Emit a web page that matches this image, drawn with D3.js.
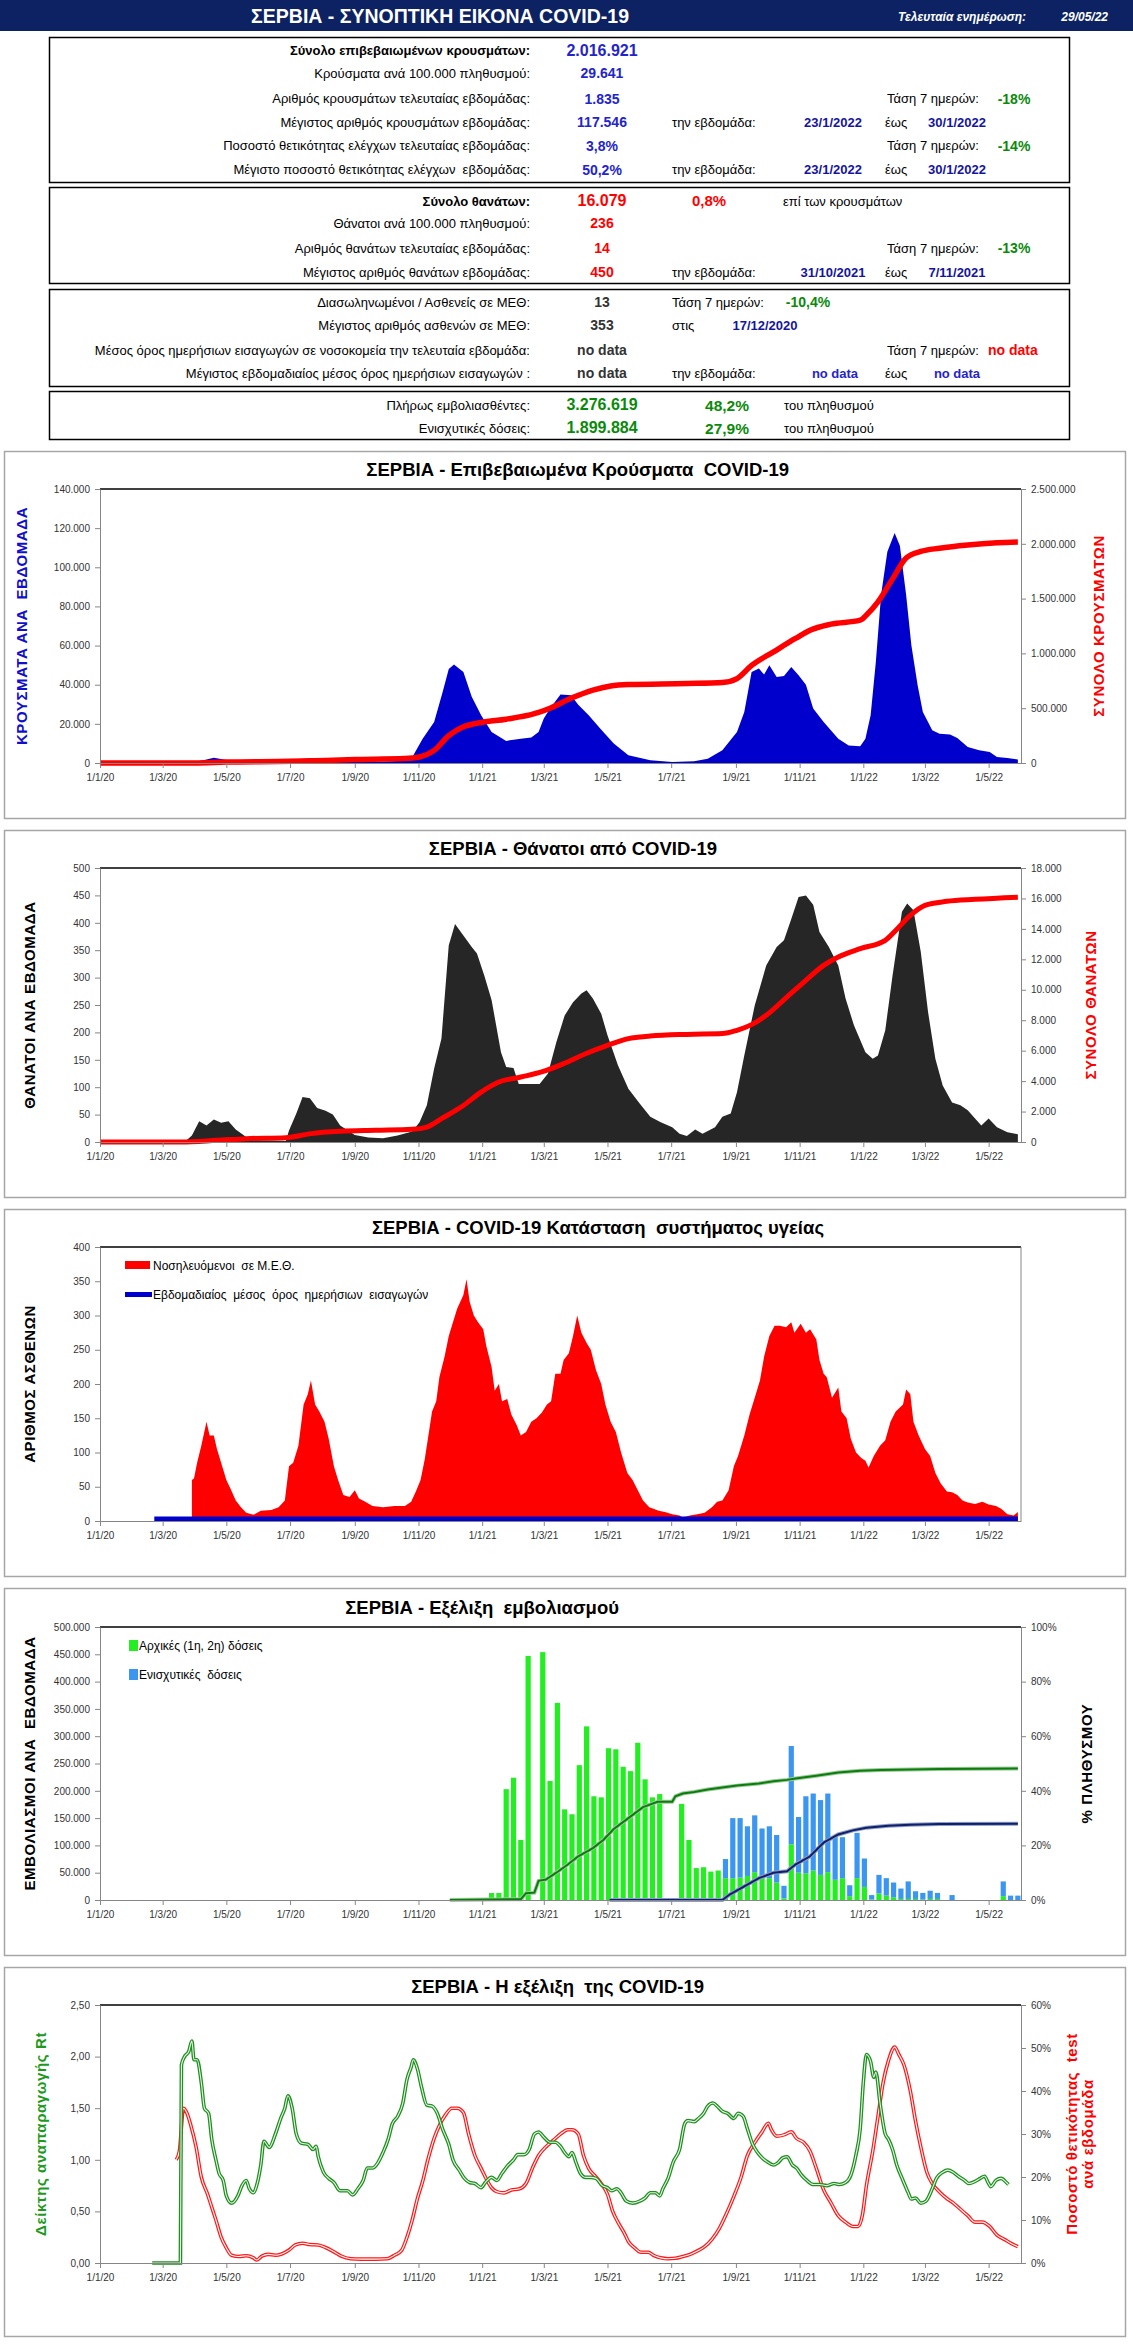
<!DOCTYPE html>
<html><head><meta charset="utf-8">
<script src="https://cdn.jsdelivr.net/npm/d3@7"></script>
<style>
body{margin:0;background:#fff}
svg{display:block}
text{font-family:"Liberation Sans",Arial,sans-serif;white-space:pre}
</style></head><body>
<svg id="c" width="1133" height="2345"></svg>
<script>
// ---------------- DATA ----------------
const xTickDates = ["2020-01-01","2020-03-01","2020-05-01","2020-07-01","2020-09-01","2020-11-01","2021-01-01","2021-03-01","2021-05-01","2021-07-01","2021-09-01","2021-11-01","2022-01-01","2022-03-01","2022-05-01"];

const casesWeekly = [["2020-01-01",0],["2020-03-08",0],["2020-04-02",800],["2020-04-09",1400],["2020-04-19",2700],["2020-04-30",1700],["2020-05-13",900],["2020-06-03",600],["2020-06-24",1400],["2020-07-15",2200],["2020-07-25",2500],["2020-08-11",1400],["2020-09-01",800],["2020-09-29",800],["2020-10-19",1200],["2020-10-26",3000],["2020-11-05",12400],["2020-11-16",21000],["2020-11-24",36000],["2020-11-30",48000],["2020-12-05",50300],["2020-12-14",46500],["2020-12-22",33800],["2020-12-31",24400],["2021-01-10",15900],["2021-01-24",11300],["2021-02-07",12400],["2021-02-17",13000],["2021-02-24",15900],["2021-03-01",22700],["2021-03-07",27800],["2021-03-17",35000],["2021-03-27",34600],["2021-04-03",29800],["2021-04-13",24400],["2021-04-24",17600],["2021-05-07",9900],["2021-05-21",3900],["2021-06-11",1400],["2021-07-02",500],["2021-07-23",900],["2021-08-05",2200],["2021-08-19",6500],["2021-09-02",15900],["2021-09-09",26000],["2021-09-16",46500],["2021-09-23",48300],["2021-09-28",45200],["2021-10-03",50000],["2021-10-10",44000],["2021-10-17",44500],["2021-10-24",49000],["2021-10-31",44800],["2021-11-07",40000],["2021-11-14",27800],["2021-11-24",21000],["2021-12-08",12400],["2021-12-18",9000],["2021-12-29",8500],["2022-01-03",12400],["2022-01-08",24400],["2022-01-13",51700],["2022-01-18",85800],["2022-01-24",108000],["2022-01-31",117546],["2022-02-05",111000],["2022-02-11",85800],["2022-02-16",60200],["2022-02-22",39700],["2022-02-27",26000],["2022-03-08",16700],["2022-03-15",15000],["2022-03-25",14500],["2022-04-01",12800],["2022-04-11",8200],["2022-04-22",6500],["2022-05-02",5600],["2022-05-09",3100],["2022-05-19",2600],["2022-05-29",1835]];

const casesTotal = [["2020-01-01",0],["2020-03-10",0],["2020-04-01",1000],["2020-05-01",9000],["2020-07-01",15000],["2020-09-01",31000],["2020-10-19",40000],["2020-11-02",55000],["2020-11-16",115000],["2020-11-30",250000],["2020-12-14",330000],["2020-12-31",370000],["2021-01-24",400000],["2021-02-20",450000],["2021-03-07",500000],["2021-03-27",590000],["2021-04-17",665000],["2021-05-04",703000],["2021-05-21",716000],["2021-07-16",725000],["2021-08-19",734000],["2021-09-02",770000],["2021-09-16",890000],["2021-10-07",1014000],["2021-10-28",1136000],["2021-11-11",1212000],["2021-12-01",1267000],["2021-12-29",1303000],["2022-01-04",1350000],["2022-01-15",1470000],["2022-01-29",1680000],["2022-02-11",1870000],["2022-02-25",1930000],["2022-03-15",1960000],["2022-04-11",1990000],["2022-05-09",2010000],["2022-05-29",2016921]];

const deathsWeekly = [["2020-01-01",0],["2020-03-22",0],["2020-03-29",12],["2020-04-05",38],["2020-04-12",30],["2020-04-19",41],["2020-04-26",35],["2020-05-03",38],["2020-05-10",23],["2020-05-20",9],["2020-05-27",3],["2020-06-27",2],["2020-06-30",21],["2020-07-07",52],["2020-07-13",82],["2020-07-20",80],["2020-07-27",62],["2020-08-04",57],["2020-08-11",50],["2020-08-18",30],["2020-09-01",13],["2020-09-14",8],["2020-09-28",7],["2020-10-12",12],["2020-10-26",19],["2020-11-02",36],["2020-11-09",67],["2020-11-16",134],["2020-11-23",189],["2020-11-30",359],["2020-12-06",398],["2020-12-14",377],["2020-12-22",356],["2020-12-27",344],["2021-01-03",304],["2021-01-10",259],["2021-01-19",164],["2021-01-24",137],["2021-01-31",135],["2021-02-05",106],["2021-02-13",106],["2021-02-25",106],["2021-03-05",125],["2021-03-13",182],["2021-03-21",231],["2021-03-29",255],["2021-04-06",271],["2021-04-11",277],["2021-04-17",262],["2021-04-25",234],["2021-05-01",195],["2021-05-11",140],["2021-05-21",97],["2021-06-01",70],["2021-06-11",46],["2021-06-21",36],["2021-07-02",27],["2021-07-09",15],["2021-07-16",11],["2021-07-24",23],["2021-07-31",15],["2021-08-12",27],["2021-08-19",46],["2021-08-27",52],["2021-09-02",91],["2021-09-09",158],["2021-09-19",249],["2021-09-30",322],["2021-10-10",356],["2021-10-17",368],["2021-10-24",407],["2021-10-31",447],["2021-11-07",450],["2021-11-14",433],["2021-11-20",383],["2021-11-29",356],["2021-12-08",322],["2021-12-15",262],["2021-12-23",213],["2022-01-03",164],["2022-01-10",152],["2022-01-15",158],["2022-01-22",204],["2022-01-29",304],["2022-02-07",420],["2022-02-12",435],["2022-02-18",423],["2022-02-25",347],["2022-03-04",237],["2022-03-11",152],["2022-03-18",103],["2022-03-27",72],["2022-04-04",67],["2022-04-11",58],["2022-04-18",43],["2022-04-24",30],["2022-05-01",43],["2022-05-09",27],["2022-05-19",18],["2022-05-29",14]];

const deathsTotal = [["2020-01-01",0],["2020-03-19",0],["2020-04-22",110],["2020-05-20",220],["2020-06-27",285],["2020-07-21",550],["2020-08-18",700],["2020-09-21",765],["2020-10-26",830],["2020-11-09",985],["2020-11-23",1530],["2020-12-14",2400],["2020-12-31",3280],["2021-01-17",3940],["2021-02-07",4270],["2021-02-27",4600],["2021-03-20",5150],["2021-04-10",5800],["2021-05-01",6350],["2021-05-21",6790],["2021-06-11",6960],["2021-07-16",7070],["2021-08-19",7120],["2021-09-02",7340],["2021-09-16",7710],["2021-09-30",8320],["2021-10-20",9530],["2021-11-07",10620],["2021-11-24",11600],["2021-12-08",12150],["2021-12-29",12700],["2022-01-22",13250],["2022-02-01",13900],["2022-02-15",14890],["2022-03-01",15550],["2022-03-22",15810],["2022-04-18",15940],["2022-05-29",16079]];

const icuPatients = [["2020-03-29",60],["2020-03-31",62],["2020-04-03",85],["2020-04-07",110],["2020-04-12",145],["2020-04-15",125],["2020-04-19",125],["2020-04-22",105],["2020-04-26",85],["2020-05-01",60],["2020-05-05",47],["2020-05-10",30],["2020-05-15",20],["2020-05-20",12],["2020-05-27",9],["2020-06-03",15],["2020-06-13",16],["2020-06-20",20],["2020-06-26",30],["2020-06-30",80],["2020-07-04",85],["2020-07-09",110],["2020-07-14",170],["2020-07-18",185],["2020-07-21",205],["2020-07-25",170],["2020-07-29",160],["2020-08-03",145],["2020-08-07",120],["2020-08-12",80],["2020-08-16",60],["2020-08-21",38],["2020-08-27",35],["2020-09-01",45],["2020-09-05",33],["2020-09-11",28],["2020-09-18",22],["2020-09-28",20],["2020-10-09",22],["2020-10-19",22],["2020-10-25",28],["2020-10-30",45],["2020-11-03",60],["2020-11-07",90],["2020-11-11",130],["2020-11-14",160],["2020-11-18",175],["2020-11-21",210],["2020-11-26",240],["2020-11-30",270],["2020-12-03",285],["2020-12-08",310],["2020-12-14",330],["2020-12-17",353],["2020-12-20",320],["2020-12-24",300],["2020-12-28",290],["2021-01-02",280],["2021-01-05",255],["2021-01-10",225],["2021-01-13",190],["2021-01-17",200],["2021-01-20",175],["2021-01-25",178],["2021-01-29",155],["2021-02-03",140],["2021-02-07",125],["2021-02-12",130],["2021-02-17",145],["2021-02-22",150],["2021-02-27",158],["2021-03-04",170],["2021-03-08",175],["2021-03-12",215],["2021-03-17",215],["2021-03-20",235],["2021-03-25",245],["2021-03-29",270],["2021-04-02",300],["2021-04-06",275],["2021-04-11",260],["2021-04-15",250],["2021-04-20",220],["2021-04-25",200],["2021-04-29",170],["2021-05-04",145],["2021-05-09",130],["2021-05-14",100],["2021-05-20",70],["2021-05-25",60],["2021-05-30",45],["2021-06-04",30],["2021-06-10",20],["2021-06-14",18],["2021-06-19",15],["2021-06-25",13],["2021-07-02",10],["2021-07-09",8],["2021-07-12",5],["2021-07-19",8],["2021-07-26",10],["2021-08-02",12],["2021-08-09",20],["2021-08-14",28],["2021-08-19",30],["2021-08-25",45],["2021-08-30",80],["2021-09-03",95],["2021-09-09",125],["2021-09-14",155],["2021-09-19",180],["2021-09-24",205],["2021-09-28",240],["2021-10-03",270],["2021-10-08",285],["2021-10-13",285],["2021-10-19",283],["2021-10-24",290],["2021-10-27",275],["2021-11-02",288],["2021-11-07",275],["2021-11-11",280],["2021-11-17",265],["2021-11-20",235],["2021-11-24",215],["2021-11-27",210],["2021-12-02",180],["2021-12-08",195],["2021-12-11",160],["2021-12-16",150],["2021-12-20",120],["2021-12-25",100],["2021-12-30",92],["2022-01-03",88],["2022-01-06",78],["2022-01-11",95],["2022-01-17",110],["2022-01-22",118],["2022-01-27",145],["2022-02-01",160],["2022-02-08",170],["2022-02-11",192],["2022-02-15",185],["2022-02-18",145],["2022-02-23",125],["2022-03-01",105],["2022-03-06",95],["2022-03-11",70],["2022-03-16",55],["2022-03-22",43],["2022-03-27",42],["2022-04-01",38],["2022-04-06",30],["2022-04-11",27],["2022-04-18",25],["2022-04-25",28],["2022-05-01",24],["2022-05-08",22],["2022-05-13",18],["2022-05-19",10],["2022-05-25",8],["2022-05-29",13]];

const admissionsAvg = [["2020-02-22",0],["2022-05-29",0]];

const vaccWeekFirst = "2021-01-10";
const vaccWeekLast = "2022-05-29";
const initialDosesK = [12.8,12.8,203,224,110,447,0,454,218,361,166,157,247,318,190,188,278,276,244,236,288,221,188,194,0,0,176,110,58.5,60,52,54,40,40,41,44,51,44,40,32,3,102,50,49,54,46,51,37,40,7,40,24,1,12,8,5,2,2,2,1,2,2,0,0,0,0,0,0,0,0,7,0,0];
const boosterDosesK = [0,0,0,0,0,0,0,0,0,0,0,0,0,0,0,0,0,0,0,0,0,0,0,0,0,0,0,0,0,0,0,0,35,110,109,91,104,87,95,87,23,180,102,141,141,137,144,79,75,20,83,52,8,34,32,27,19,32,14,12,15,11,0,9,0,0,0,0,0,0,27,8,8];

const fullyVaccPct = [["2020-12-01",0],["2021-02-07",0.3],["2021-02-12",2.5],["2021-02-20",2.7],["2021-02-24",7],["2021-03-03",7.5],["2021-03-13",10],["2021-03-24",13],["2021-04-03",16],["2021-04-17",19],["2021-04-27",22],["2021-05-07",26],["2021-05-21",30],["2021-06-04",34],["2021-06-18",36],["2021-07-02",36],["2021-07-05",38],["2021-07-12",39],["2021-07-23",39.6],["2021-08-05",40.5],["2021-08-19",41.2],["2021-09-02",41.9],["2021-09-23",42.7],["2021-10-07",43.5],["2021-10-20",44],["2021-10-28",44.5],["2021-11-17",45.5],["2021-12-08",46.7],["2021-12-29",47.3],["2022-01-18",47.6],["2022-02-15",47.8],["2022-03-15",48],["2022-05-29",48.2]];

const boosterPct = [["2021-05-03",0],["2021-08-19",0],["2021-08-26",2],["2021-09-09",5],["2021-09-23",8],["2021-10-07",10],["2021-10-20",10.5],["2021-10-28",13],["2021-11-11",16],["2021-11-24",21],["2021-12-08",24],["2021-12-22",25.5],["2022-01-04",26.5],["2022-01-25",27.2],["2022-02-15",27.6],["2022-03-15",27.8],["2022-05-29",27.9]];

const rtIndex = [["2020-02-20",0],["2020-03-18",0],["2020-03-19",1.92],["2020-03-22",2.0],["2020-03-26",2.05],["2020-03-29",2.15],["2020-03-31",1.97],["2020-04-03",1.97],["2020-04-07",1.75],["2020-04-10",1.5],["2020-04-14",1.45],["2020-04-17",1.2],["2020-04-21",1.0],["2020-04-24",0.87],["2020-04-28",0.8],["2020-05-01",0.65],["2020-05-06",0.58],["2020-05-12",0.65],["2020-05-16",0.75],["2020-05-20",0.8],["2020-05-23",0.72],["2020-05-27",0.68],["2020-05-30",0.75],["2020-06-03",0.95],["2020-06-06",1.18],["2020-06-11",1.12],["2020-06-17",1.25],["2020-06-22",1.4],["2020-06-26",1.5],["2020-06-29",1.62],["2020-07-03",1.5],["2020-07-07",1.25],["2020-07-12",1.16],["2020-07-18",1.15],["2020-07-23",1.1],["2020-07-26",1.13],["2020-07-28",1.03],["2020-08-02",0.88],["2020-08-07",0.82],["2020-08-12",0.78],["2020-08-18",0.7],["2020-08-25",0.7],["2020-08-30",0.66],["2020-09-04",0.72],["2020-09-09",0.8],["2020-09-13",0.92],["2020-09-18",0.92],["2020-09-23",0.97],["2020-09-28",1.07],["2020-10-03",1.2],["2020-10-07",1.35],["2020-10-12",1.42],["2020-10-17",1.55],["2020-10-21",1.78],["2020-10-25",1.9],["2020-10-27",1.97],["2020-10-31",1.88],["2020-11-04",1.7],["2020-11-09",1.53],["2020-11-14",1.52],["2020-11-19",1.45],["2020-11-24",1.3],["2020-11-30",1.15],["2020-12-04",1.0],["2020-12-10",0.9],["2020-12-15",0.82],["2020-12-20",0.78],["2020-12-25",0.77],["2020-12-31",0.73],["2021-01-04",0.78],["2021-01-10",0.83],["2021-01-15",0.8],["2021-01-20",0.87],["2021-01-26",0.95],["2021-01-31",1.0],["2021-02-04",1.05],["2021-02-10",1.05],["2021-02-15",1.1],["2021-02-20",1.25],["2021-02-24",1.27],["2021-03-01",1.22],["2021-03-07",1.17],["2021-03-12",1.17],["2021-03-17",1.13],["2021-03-21",1.07],["2021-03-25",1.03],["2021-03-28",1.07],["2021-04-01",0.97],["2021-04-05",0.87],["2021-04-10",0.83],["2021-04-15",0.83],["2021-04-20",0.82],["2021-04-26",0.75],["2021-05-01",0.73],["2021-05-05",0.7],["2021-05-10",0.72],["2021-05-14",0.68],["2021-05-19",0.6],["2021-05-25",0.58],["2021-06-01",0.6],["2021-06-06",0.63],["2021-06-11",0.68],["2021-06-16",0.68],["2021-06-20",0.65],["2021-06-23",0.72],["2021-06-28",0.82],["2021-07-03",0.98],["2021-07-09",1.1],["2021-07-14",1.35],["2021-07-17",1.38],["2021-07-23",1.37],["2021-07-27",1.4],["2021-08-01",1.45],["2021-08-05",1.52],["2021-08-10",1.55],["2021-08-14",1.52],["2021-08-19",1.47],["2021-08-24",1.45],["2021-08-30",1.4],["2021-09-03",1.45],["2021-09-08",1.42],["2021-09-12",1.3],["2021-09-17",1.15],["2021-09-21",1.08],["2021-09-26",1.02],["2021-10-01",0.98],["2021-10-07",0.95],["2021-10-11",0.97],["2021-10-16",1.02],["2021-10-20",1.03],["2021-10-25",0.95],["2021-10-29",0.92],["2021-11-03",0.85],["2021-11-08",0.8],["2021-11-14",0.76],["2021-11-20",0.76],["2021-11-27",0.75],["2021-12-04",0.77],["2021-12-09",0.76],["2021-12-15",0.78],["2021-12-20",0.85],["2021-12-25",1.05],["2021-12-29",1.3],["2022-01-01",1.75],["2022-01-04",2.02],["2022-01-08",1.95],["2022-01-11",1.8],["2022-01-13",1.85],["2022-01-17",1.55],["2022-01-22",1.25],["2022-01-25",1.2],["2022-01-29",1.1],["2022-02-02",0.95],["2022-02-08",0.8],["2022-02-13",0.68],["2022-02-16",0.62],["2022-02-20",0.63],["2022-02-25",0.58],["2022-03-02",0.6],["2022-03-08",0.72],["2022-03-12",0.82],["2022-03-18",0.88],["2022-03-23",0.9],["2022-03-28",0.88],["2022-04-02",0.84],["2022-04-08",0.8],["2022-04-12",0.77],["2022-04-18",0.79],["2022-04-23",0.82],["2022-04-27",0.84],["2022-05-01",0.77],["2022-05-03",0.74],["2022-05-08",0.8],["2022-05-13",0.82],["2022-05-18",0.78],["2022-05-20",0.76]];

const positivityPct = [["2020-03-14",24],["2020-03-17",26],["2020-03-21",36],["2020-03-24",35],["2020-03-28",32],["2020-04-02",27],["2020-04-07",20],["2020-04-13",16],["2020-04-17",13],["2020-04-21",10],["2020-04-26",6],["2020-05-01",3.5],["2020-05-06",1.8],["2020-05-13",1.5],["2020-05-20",1.7],["2020-05-27",1.2],["2020-05-30",0.7],["2020-06-04",1.6],["2020-06-10",2],["2020-06-17",1.8],["2020-06-23",2.1],["2020-06-30",3],["2020-07-06",4.2],["2020-07-13",4.6],["2020-07-20",4.3],["2020-07-28",4.2],["2020-08-04",3.6],["2020-08-12",2.6],["2020-08-19",1.6],["2020-08-28",1],["2020-09-07",0.9],["2020-09-21",0.9],["2020-10-02",1],["2020-10-09",1.8],["2020-10-16",3],["2020-10-21",6],["2020-10-26",10],["2020-10-31",15],["2020-11-05",19],["2020-11-10",24],["2020-11-16",29],["2020-11-21",32],["2020-11-27",34.5],["2020-12-03",36],["2020-12-08",36],["2020-12-14",35],["2020-12-19",30],["2020-12-25",25],["2020-12-31",22],["2021-01-04",20],["2021-01-10",17.5],["2021-01-15",16.6],["2021-01-22",16.3],["2021-01-29",17],["2021-02-05",17.2],["2021-02-12",18.5],["2021-02-18",22],["2021-02-24",25],["2021-03-03",27],["2021-03-10",28.5],["2021-03-17",30],["2021-03-24",31],["2021-03-28",31],["2021-04-03",30],["2021-04-08",25],["2021-04-13",22],["2021-04-20",20],["2021-04-25",18.5],["2021-05-01",16],["2021-05-06",12],["2021-05-11",9.5],["2021-05-17",7],["2021-05-21",5],["2021-05-27",3.5],["2021-06-02",2.5],["2021-06-09",2.5],["2021-06-14",1.8],["2021-06-21",1.2],["2021-06-28",1],["2021-07-05",1.1],["2021-07-12",1.5],["2021-07-19",2],["2021-07-26",2.8],["2021-08-02",3.8],["2021-08-09",5.5],["2021-08-16",8],["2021-08-23",11.5],["2021-08-30",15.5],["2021-09-06",20],["2021-09-12",25],["2021-09-19",28],["2021-09-26",30.5],["2021-10-02",32.5],["2021-10-05",31],["2021-10-10",29.5],["2021-10-17",29.8],["2021-10-24",30.5],["2021-10-29",29],["2021-11-05",28],["2021-11-11",26],["2021-11-17",22],["2021-11-24",17],["2021-12-01",14],["2021-12-08",11],["2021-12-15",9.5],["2021-12-22",8.5],["2021-12-27",8.5],["2021-12-31",11],["2022-01-04",18],["2022-01-10",26],["2022-01-15",34],["2022-01-20",42],["2022-01-25",47],["2022-01-31",50.2],["2022-02-04",48.5],["2022-02-09",46],["2022-02-15",40],["2022-02-20",33],["2022-02-25",27],["2022-03-03",21],["2022-03-08",18.5],["2022-03-15",16.5],["2022-03-22",15],["2022-03-28",14],["2022-04-04",12.5],["2022-04-11",11],["2022-04-18",9.5],["2022-04-25",9.5],["2022-05-02",8.5],["2022-05-09",6.5],["2022-05-16",5.5],["2022-05-23",4.5],["2022-05-29",3.8]];

// summary table text
const headerTitle = "ΣΕΡΒΙΑ - ΣΥΝΟΠΤΙΚΗ ΕΙΚΟΝΑ COVID-19";
const updatedLabel = "Τελευταία ενημέρωση:";
const updatedDate = "29/05/22";

// ---------------- RENDER ----------------
const svg = d3.select("#c");
const parse = d3.timeParse("%Y-%m-%d");
const loc = d3.formatLocale({decimal:",", thousands:".", grouping:[3], currency:["",""]});
const fInt = loc.format(",.0f"), fDec2 = loc.format(",.2f"), fPct = loc.format(".0%");
const FONT = '"Liberation Sans",Arial,sans-serif';
const X0 = 100, X1 = 1021;
const x = d3.scaleTime().domain([parse("2020-01-01"), parse("2022-06-01")]).range([X0, X1]);
const xTicks = xTickDates.map(parse);
const pairs = arr => arr.map(d => ({date: parse(d[0]), v: d[1]}));

function txt(g, xx, yy, s, o = {}) {
  return g.append("text").attr("x", xx).attr("y", yy).text(s)
    .attr("font-size", o.size || 13).attr("font-weight", o.bold ? "bold" : "normal")
    .attr("font-style", o.italic ? "italic" : "normal")
    .attr("fill", o.color || "#000").attr("text-anchor", o.anchor || "start");
}

// ---- header ----
svg.append("rect").attr("x",0).attr("y",0).attr("width",1133).attr("height",31).attr("fill","#0c2262");
txt(svg, 629, 23, headerTitle, {size:19.5, bold:true, color:"#fff", anchor:"end"});
txt(svg, 1026, 21, updatedLabel, {size:12, bold:true, italic:true, color:"#fff", anchor:"end"});
txt(svg, 1108, 21, updatedDate, {size:12, bold:true, italic:true, color:"#fff", anchor:"end"});

// ---- summary boxes ----
const boxes = [[37,182],[187,283],[289,386],[391,439]];
boxes.forEach(b => svg.append("rect").attr("x",49.5).attr("y",b[0]+0.5).attr("width",1020).attr("height",b[1]-b[0])
  .attr("fill","none").attr("stroke","#000").attr("stroke-width",1.5));

const BLUE = "#2424cc", DBLUE = "#14149e", GREEN = "#0a8a0a", RED = "#ff0000", DARK = "#333";
const LABX = 530, VALX = 602;
function row(yc, label, lblBold, value, vsize, vcolor) {
  txt(svg, LABX, yc + 4.5, label, {size:13, bold:lblBold, anchor:"end"});
  if (value) txt(svg, VALX, yc + 5, value, {size:vsize, bold:true, color:vcolor, anchor:"middle"});
}
function weekSpan(yc, d1, d2, lblX) {
  txt(svg, lblX || 672, yc + 4.5, "την εβδομάδα:", {size:13});
  txt(svg, 833, yc + 4.5, d1, {size:13, bold:true, color:DBLUE, anchor:"middle"});
  txt(svg, 885, yc + 4.5, "έως", {size:13});
  txt(svg, 957, yc + 4.5, d2, {size:13, bold:true, color:DBLUE, anchor:"middle"});
}
function trend(yc, val, color) {
  txt(svg, 887, yc + 4.5, "Τάση 7 ημερών:", {size:13});
  txt(svg, 1014, yc + 5, val, {size:14, bold:true, color:color, anchor:"middle"});
}
// box 1
row(50.5, "Σύνολο επιβεβαιωμένων κρουσμάτων:", true, "2.016.921", 16, BLUE);
row(73, "Κρούσματα ανά 100.000 πληθυσμού:", false, "29.641", 14, BLUE);
row(98.5, "Αριθμός κρουσμάτων τελευταίας εβδομάδας:", false, "1.835", 14, BLUE);
trend(98.5, "-18%", GREEN);
row(122, "Μέγιστος αριθμός κρουσμάτων εβδομάδας:", false, "117.546", 14, BLUE);
weekSpan(122, "23/1/2022", "30/1/2022");
row(145.5, "Ποσοστό θετικότητας ελέγχων τελευταίας εβδομάδας:", false, "3,8%", 14, BLUE);
trend(145.5, "-14%", GREEN);
row(169.5, "Μέγιστο ποσοστό θετικότητας ελέγχων  εβδομάδας:", false, "50,2%", 14, BLUE);
weekSpan(169.5, "23/1/2022", "30/1/2022");
// box 2
row(201, "Σύνολο θανάτων:", true, "16.079", 16, RED);
txt(svg, 709, 206, "0,8%", {size:15, bold:true, color:RED, anchor:"middle"});
txt(svg, 783, 205.5, "επί των κρουσμάτων", {size:13});
row(223, "Θάνατοι ανά 100.000 πληθυσμού:", false, "236", 14, RED);
row(248, "Αριθμός θανάτων τελευταίας εβδομάδας:", false, "14", 14, RED);
trend(248, "-13%", GREEN);
row(272, "Μέγιστος αριθμός θανάτων εβδομάδας:", false, "450", 14, RED);
weekSpan(272, "31/10/2021", "7/11/2021");
// box 3
row(302, "Διασωληνωμένοι / Ασθενείς σε ΜΕΘ:", false, "13", 14, DARK);
txt(svg, 672, 306.5, "Τάση 7 ημερών:", {size:13});
txt(svg, 808, 307, "-10,4%", {size:14, bold:true, color:GREEN, anchor:"middle"});
row(325, "Μέγιστος αριθμός ασθενών σε ΜΕΘ:", false, "353", 14, DARK);
txt(svg, 672, 329.5, "στις", {size:13});
txt(svg, 765, 329.5, "17/12/2020", {size:13, bold:true, color:DBLUE, anchor:"middle"});
row(350, "Μέσος όρος ημερήσιων εισαγωγών σε νοσοκομεία την τελευταία εβδομάδα:", false, "no data", 14, DARK);
txt(svg, 887, 354.5, "Τάση 7 ημερών:", {size:13});
txt(svg, 988, 355, "no data", {size:14, bold:true, color:RED});
row(373, "Μέγιστος εβδομαδιαίος μέσος όρος ημερήσιων εισαγωγών :", false, "no data", 14, DARK);
txt(svg, 672, 377.5, "την εβδομάδα:", {size:13});
txt(svg, 835, 377.5, "no data", {size:13, bold:true, color:BLUE, anchor:"middle"});
txt(svg, 885, 377.5, "έως", {size:13});
txt(svg, 957, 377.5, "no data", {size:13, bold:true, color:BLUE, anchor:"middle"});
// box 4
row(405, "Πλήρως εμβολιασθέντες:", false, "3.276.619", 16, GREEN);
txt(svg, 727, 410.5, "48,2%", {size:15.5, bold:true, color:GREEN, anchor:"middle"});
txt(svg, 784, 409.5, "του πληθυσμού", {size:13});
row(428, "Ενισχυτικές δόσεις:", false, "1.899.884", 16, GREEN);
txt(svg, 727, 433.5, "27,9%", {size:15.5, bold:true, color:GREEN, anchor:"middle"});
txt(svg, 784, 432.5, "του πληθυσμού", {size:13});

// ---- chart frame helper ----
function styleAxis(g) {
  g.selectAll("path,line").attr("stroke", "#868686");
  g.selectAll("text").attr("font-family", FONT).attr("font-size", 10).attr("fill", "#333");
}
function frame(o) {
  svg.append("rect").attr("x",4.5).attr("y",o.pTop+0.5).attr("width",1121).attr("height",o.pBot-o.pTop)
    .attr("fill","#fff").attr("stroke","#a6a6a6").attr("stroke-width",1.5);
  txt(svg, o.titleEnd, o.titleY, o.title, {size:18.5, bold:true, anchor:"end"});
  const yTitle = (t, cx, cy, color) => svg.append("text").attr("transform", `translate(${cx},${cy}) rotate(-90)`)
    .attr("text-anchor","middle").attr("dy","0.36em").attr("font-size",15).attr("font-weight","bold")
    .attr("letter-spacing", 0.6).attr("fill", color).text(t);
  if (o.leftTitle) yTitle(o.leftTitle, o.leftTitleX, (o.top + o.bot) / 2, o.leftColor);
  if (o.rightTitle) yTitle(o.rightTitle, o.rightTitleX, (o.top + o.bot) / 2, o.rightColor);
  return o;
}
function axes(o) {
  svg.append("line").attr("x1",X0).attr("x2",X1).attr("y1",o.top).attr("y2",o.top).attr("stroke","#000").attr("stroke-width",1.5);
  const gl = svg.append("g").attr("transform",`translate(${X0},0)`)
    .call(d3.axisLeft(o.yL).tickValues(o.ticksL).tickFormat(o.fmtL).tickSize(5).tickSizeOuter(0).tickPadding(5));
  styleAxis(gl);
  if (o.yR) {
    const gr = svg.append("g").attr("transform",`translate(${X1},0)`)
      .call(d3.axisRight(o.yR).tickValues(o.ticksR).tickFormat(o.fmtR).tickSize(5).tickSizeOuter(0).tickPadding(5));
    styleAxis(gr);
  } else {
    svg.append("line").attr("x1",X1).attr("x2",X1).attr("y1",o.top).attr("y2",o.bot).attr("stroke","#868686");
  }
  const gx = svg.append("g").attr("transform",`translate(0,${o.bot})`)
    .call(d3.axisBottom(x).tickValues(xTicks).tickFormat(d3.timeFormat("%-d/%-m/%y")).tickSize(5).tickSizeOuter(0).tickPadding(6));
  styleAxis(gx);
}

// ---- Chart 1: cases ----
{
  const o = frame({pTop:451, pBot:818, top:489, bot:763, title:"ΣΕΡΒΙΑ - Επιβεβαιωμένα Κρούσματα  COVID-19", titleEnd:789, titleY:476,
    leftTitle:"ΚΡΟΥΣΜΑΤΑ ΑΝΑ  ΕΒΔΟΜΑΔΑ", leftTitleX:22, leftColor:"#1010cc", rightTitle:"ΣΥΝΟΛΟ ΚΡΟΥΣΜΑΤΩΝ", rightTitleX:1099, rightColor:"#ff0000"});
  o.yL = d3.scaleLinear().domain([0,140000]).range([o.bot,o.top]);
  o.yR = d3.scaleLinear().domain([0,2500000]).range([o.bot,o.top]);
  o.ticksL = d3.range(0,140001,20000); o.ticksR = d3.range(0,2500001,500000);
  o.fmtL = fInt; o.fmtR = fInt;
  svg.append("path").datum(pairs(casesWeekly)).attr("fill","#0000cc")
    .attr("d", d3.area().x(d=>x(d.date)).y0(o.bot).y1(d=>o.yL(d.v)));
  svg.append("path").datum(pairs(casesTotal)).attr("fill","none").attr("stroke","#ff0000").attr("stroke-width",5.5)
    .attr("stroke-linejoin","round").attr("d", d3.line().curve(d3.curveMonotoneX).x(d=>x(d.date)).y(d=>o.yR(d.v)));
  axes(o);
}
// ---- Chart 2: deaths ----
{
  const o = frame({pTop:830, pBot:1197, top:868, bot:1142, title:"ΣΕΡΒΙΑ - Θάνατοι από COVID-19", titleEnd:717, titleY:855,
    leftTitle:"ΘΑΝΑΤΟΙ ΑΝΑ ΕΒΔΟΜΑΔΑ", leftTitleX:30, leftColor:"#000", rightTitle:"ΣΥΝΟΛΟ ΘΑΝΑΤΩΝ", rightTitleX:1091, rightColor:"#ff0000"});
  o.yL = d3.scaleLinear().domain([0,500]).range([o.bot,o.top]);
  o.yR = d3.scaleLinear().domain([0,18000]).range([o.bot,o.top]);
  o.ticksL = d3.range(0,501,50); o.ticksR = d3.range(0,18001,2000);
  o.fmtL = fInt; o.fmtR = fInt;
  svg.append("path").datum(pairs(deathsWeekly)).attr("fill","#262626")
    .attr("d", d3.area().x(d=>x(d.date)).y0(o.bot).y1(d=>o.yL(d.v)));
  svg.append("path").datum(pairs(deathsTotal)).attr("fill","none").attr("stroke","#ff0000").attr("stroke-width",5)
    .attr("stroke-linejoin","round").attr("d", d3.line().curve(d3.curveMonotoneX).x(d=>x(d.date)).y(d=>o.yR(d.v)));
  axes(o);
}
// ---- Chart 3: ICU ----
{
  const o = frame({pTop:1209, pBot:1576, top:1247, bot:1521, title:"ΣΕΡΒΙΑ - COVID-19 Κατάσταση  συστήματος υγείας", titleEnd:824, titleY:1234,
    leftTitle:"ΑΡΙΘΜΟΣ ΑΣΘΕΝΩΝ", leftTitleX:30, leftColor:"#000"});
  o.yL = d3.scaleLinear().domain([0,400]).range([o.bot,o.top]);
  o.ticksL = d3.range(0,401,50); o.fmtL = fInt;
  svg.append("path").datum(pairs(icuPatients)).attr("fill","#ff0000")
    .attr("d", d3.area().x(d=>x(d.date)).y0(o.bot).y1(d=>o.yL(d.v)));
  svg.append("path").datum(pairs(admissionsAvg)).attr("fill","none").attr("stroke","#0000cc").attr("stroke-width",5)
    .attr("d", d3.line().x(d=>x(d.date)).y(d=>o.yL(d.v)-2));
  axes(o);
  svg.append("rect").attr("x",125).attr("y",1261).attr("width",25).attr("height",8).attr("fill","#ff0000");
  txt(svg, 153, 1270, "Νοσηλευόμενοι  σε Μ.Ε.Θ.", {size:12});
  svg.append("rect").attr("x",125).attr("y",1292).attr("width",27).attr("height",5).attr("fill","#0000cc");
  txt(svg, 153, 1299, "Εβδομαδιαίος  μέσος  όρος  ημερήσιων  εισαγωγών", {size:12});
}
// ---- Chart 4: vaccination ----
{
  const o = frame({pTop:1588, pBot:1955, top:1627, bot:1900, title:"ΣΕΡΒΙΑ - Εξέλιξη  εμβολιασμού", titleEnd:619, titleY:1614,
    leftTitle:"ΕΜΒΟΛΙΑΣΜΟΙ ΑΝΑ  ΕΒΔΟΜΑΔΑ", leftTitleX:30, leftColor:"#000", rightTitle:"% ΠΛΗΘΥΣΜΟΥ", rightTitleX:1087, rightColor:"#000"});
  o.yL = d3.scaleLinear().domain([0,500000]).range([o.bot,o.top]);
  o.yR = d3.scaleLinear().domain([0,100]).range([o.bot,o.top]);
  o.ticksL = d3.range(0,500001,50000); o.ticksR = d3.range(0,101,20);
  o.fmtL = fInt; o.fmtR = d => d + "%";
  const weeks = d3.timeWeek.range(parse(vaccWeekFirst), d3.timeDay.offset(parse(vaccWeekLast), 1));
  const bw = 5.2;
  const gb = svg.append("g");
  weeks.forEach((w, i) => {
    const g0 = initialDosesK[i] * 1000, b0 = boosterDosesK[i] * 1000;
    if (g0 > 0) gb.append("rect").attr("x", x(w) - bw/2).attr("width", bw)
      .attr("y", o.yL(g0)).attr("height", o.bot - o.yL(g0)).attr("fill", "#22ee22");
    if (b0 > 0) gb.append("rect").attr("x", x(w) - bw/2).attr("width", bw)
      .attr("y", o.yL(g0 + b0)).attr("height", o.yL(g0) - o.yL(g0 + b0)).attr("fill", "#3a96f0");
  });
  const ln = d3.line().x(d=>x(d.date)).y(d=>o.yR(d.v));
  svg.append("path").datum(pairs(fullyVaccPct)).attr("fill","none").attr("stroke","#9cc89c").attr("stroke-width",4).attr("d", ln);
  svg.append("path").datum(pairs(fullyVaccPct)).attr("fill","none").attr("stroke","#0b7d0b").attr("stroke-width",2).attr("d", ln);
  svg.append("path").datum(pairs(boosterPct)).attr("fill","none").attr("stroke","#8d9cc4").attr("stroke-width",4).attr("d", ln);
  svg.append("path").datum(pairs(boosterPct)).attr("fill","none").attr("stroke","#0f1f6a").attr("stroke-width",2).attr("d", ln);
  axes(o);
  svg.append("rect").attr("x",129).attr("y",1640).attr("width",9).attr("height",11).attr("fill","#22ee22");
  txt(svg, 139, 1650, "Αρχικές (1η, 2η) δόσεις", {size:12});
  svg.append("rect").attr("x",129).attr("y",1669).attr("width",9).attr("height",11).attr("fill","#3a96f0");
  txt(svg, 139, 1679, "Ενισχυτικές  δόσεις", {size:12});
}
// ---- Chart 5: Rt & positivity ----
{
  const o = frame({pTop:1967, pBot:2336, top:2005, bot:2263, title:"ΣΕΡΒΙΑ - Η εξέλιξη  της COVID-19", titleEnd:704, titleY:1993,
    leftTitle:"Δείκτης αναπαραγωγής Rt", leftTitleX:41, leftColor:"#1c9a1c"});
  o.yL = d3.scaleLinear().domain([0,2.5]).range([o.bot,o.top]);
  o.yR = d3.scaleLinear().domain([0,60]).range([o.bot,o.top]);
  o.ticksL = d3.range(0,2.51,0.5); o.ticksR = d3.range(0,61,10);
  o.fmtL = fDec2; o.fmtR = d => d + "%";
  const l1 = d3.line().curve(d3.curveMonotoneX).x(d=>x(d.date)).y(d=>o.yL(d.v));
  const l2 = d3.line().curve(d3.curveMonotoneX).x(d=>x(d.date)).y(d=>o.yR(d.v));
  svg.append("path").datum(pairs(positivityPct)).attr("fill","none").attr("stroke","#ff1a1a").attr("stroke-width",3.6).attr("d", l2);
  svg.append("path").datum(pairs(positivityPct)).attr("fill","none").attr("stroke","#fff").attr("stroke-width",1.1).attr("d", l2);
  svg.append("path").datum(pairs(rtIndex)).attr("fill","none").attr("stroke","#1f8f1f").attr("stroke-width",3.6).attr("d", l1);
  svg.append("path").datum(pairs(rtIndex)).attr("fill","none").attr("stroke","#e6f5e6").attr("stroke-width",1.1).attr("d", l1);
  axes(o);
  const rt = (t, cx) => svg.append("text").attr("transform", `translate(${cx},${(o.top+o.bot)/2}) rotate(-90)`)
    .attr("text-anchor","middle").attr("dy","0.36em").attr("font-size",15).attr("font-weight","bold")
    .attr("letter-spacing",0.6).attr("fill","#ff0000").text(t);
  rt("Ποσοστό θετικότητας  test", 1072);
  rt("ανά εβδομάδα", 1088);
}
</script></body></html>
